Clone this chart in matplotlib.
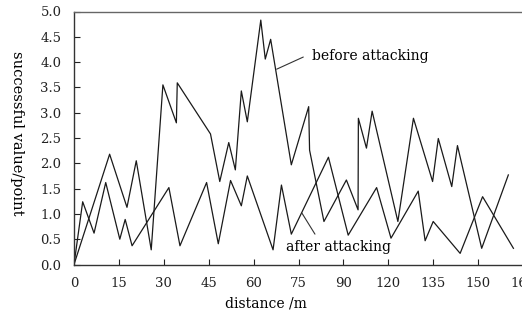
import numpy as np
from matplotlib import pyplot as plt

# x positions are on the chart's own (uneven) distance scale, one tick = 15
before_x = [0.0, 11.9, 17.7, 20.8, 25.8, 29.7, 34.2, 34.5, 45.6, 48.7, 51.7, 53.9,
            55.9, 57.9, 62.4, 63.9, 65.7, 72.6, 78.4, 78.7, 83.5, 91.0, 94.9, 95.0,
            97.7, 99.6, 108.2, 113.4, 119.8, 121.7, 126.2, 128.1, 136.2, 145.1]
before_y = [0.0, 2.18, 1.13, 2.05, 0.29, 3.55, 2.80, 3.59, 2.58, 1.64, 2.41, 1.87,
            3.43, 2.82, 4.83, 4.06, 4.45, 1.97, 3.12, 2.26, 0.85, 1.67, 1.08, 2.89,
            2.30, 3.03, 0.85, 2.89, 1.64, 2.49, 1.54, 2.35, 0.32, 1.77]

after_x = [0.0, 2.9, 6.7, 10.6, 15.3, 17.1, 19.4, 31.7, 35.4, 44.3, 48.2, 52.3,
           55.9, 57.9, 66.5, 69.3, 72.6, 85.0, 91.6, 101.1, 105.9, 115.0, 117.3,
           120.0, 129.0, 136.5, 146.8]
after_y = [0.0, 1.24, 0.62, 1.62, 0.50, 0.89, 0.37, 1.52, 0.37, 1.62, 0.41, 1.66,
           1.16, 1.75, 0.29, 1.57, 0.60, 2.12, 0.58, 1.52, 0.52, 1.45, 0.47,
           0.85, 0.22, 1.34, 0.32]

xtick_pos = np.arange(0, 151, 15)
xtick_labels = ['0', '15', '30', '45', '60', '75', '90', '120', '135', '150', '165']
ytick_pos = np.arange(0, 5.01, 0.5)

plt.rcParams['font.family'] = 'DejaVu Serif'

fig = plt.figure(figsize=(5.22, 3.2), dpi=100)
ax = fig.add_axes([74/522, 55.5/320, 449/522, 253/320])

ax.plot(before_x, before_y, color='#1a1a1a', lw=0.9)
ax.plot(after_x, after_y, color='#1a1a1a', lw=0.9)

ax.set_xlim(0, 150)
ax.set_ylim(0, 5.0)
ax.set_xticks(xtick_pos)
ax.set_xticklabels(xtick_labels)
ax.set_yticks(ytick_pos)
ax.set_yticklabels(['%.1f' % v for v in ytick_pos])
ax.tick_params(direction='in', length=4, width=0.8, labelsize=9.5, colors='#222222')
ax.tick_params(axis='x', pad=9)
ax.tick_params(axis='y', pad=9)

for s in ['left', 'bottom']:
    ax.spines[s].set_color('#333333')
    ax.spines[s].set_linewidth(1.0)
ax.spines['top'].set_color('#666666')
ax.spines['top'].set_linewidth(1.0)
ax.spines['right'].set_visible(False)

ax.set_xlabel('distance /m', fontsize=10)
ax.xaxis.set_label_coords(0.428, -0.125)
ax.set_ylabel('successful value/point', fontsize=10.5, rotation=270, va='center')
ax.yaxis.set_label_coords(-0.127, 0.52)

# labels with leader lines
ax.text(98.9, 4.13, 'before attacking', fontsize=10, ha='center', va='center')
ax.annotate('', xy=(67.7, 3.86), xytext=(76.6, 4.1),
            arrowprops=dict(arrowstyle='-', color='#333333', lw=0.8,
                            shrinkA=0, shrinkB=0))
ax.text(88.2, 0.35, 'after attacking', fontsize=10, ha='center', va='center')
ax.annotate('', xy=(76.1, 1.02), xytext=(80.5, 0.60),
            arrowprops=dict(arrowstyle='-', color='#333333', lw=0.8,
                            shrinkA=0, shrinkB=0))

plt.savefig('out.png', dpi=100)
